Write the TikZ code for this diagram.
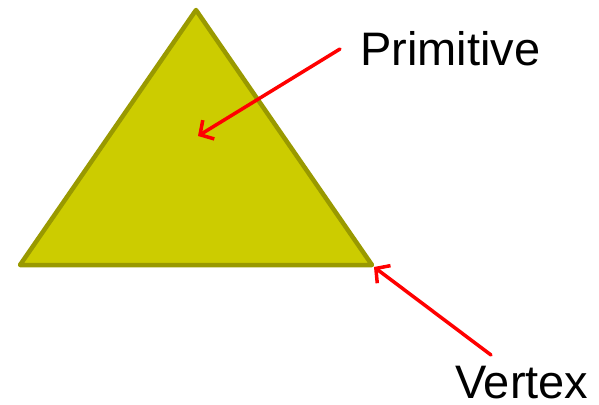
\documentclass[tikz,border=0pt]{standalone}
\usepackage{fontspec}
\setmainfont{Liberation Sans}
\usetikzlibrary{arrows.meta}
\definecolor{trifill}{HTML}{CCCC00}
\definecolor{triedge}{HTML}{999900}
\definecolor{arrred}{HTML}{FF0000}
\tikzset{
  tri/.style={fill=trifill,draw=triedge,line width=4.5pt,line join=round},
  pointer/.style={draw=arrred,line width=3.5pt,line cap=round,-{Straight Barb[length=10pt,width=22pt,line width=3.5pt]}},
  label/.style={font=\fontsize{47}{50}\selectfont,inner sep=0pt,text depth=0pt,anchor=base west}
}
\begin{document}
\begin{tikzpicture}[x=1pt,y=-1pt]
\useasboundingbox (0,0) rectangle (599,404);
\coordinate (apex) at (196,10);
\coordinate (bl) at (20,265);
\coordinate (br) at (372,265);
\draw[tri] (apex) -- (br) -- (bl) -- cycle;
\node[label] (prim) at (360,65) {Primitive};
\node[label] (vert) at (455,398) {Vertex};
\coordinate (pstart) at (340,49);
\coordinate (ptip) at (198,136);
\coordinate (vstart) at (491,355);
\coordinate (vtip) at (374,267);
\draw[pointer] (pstart) -- (ptip);
\draw[pointer] (vstart) -- (vtip);
\end{tikzpicture}
\end{document}
